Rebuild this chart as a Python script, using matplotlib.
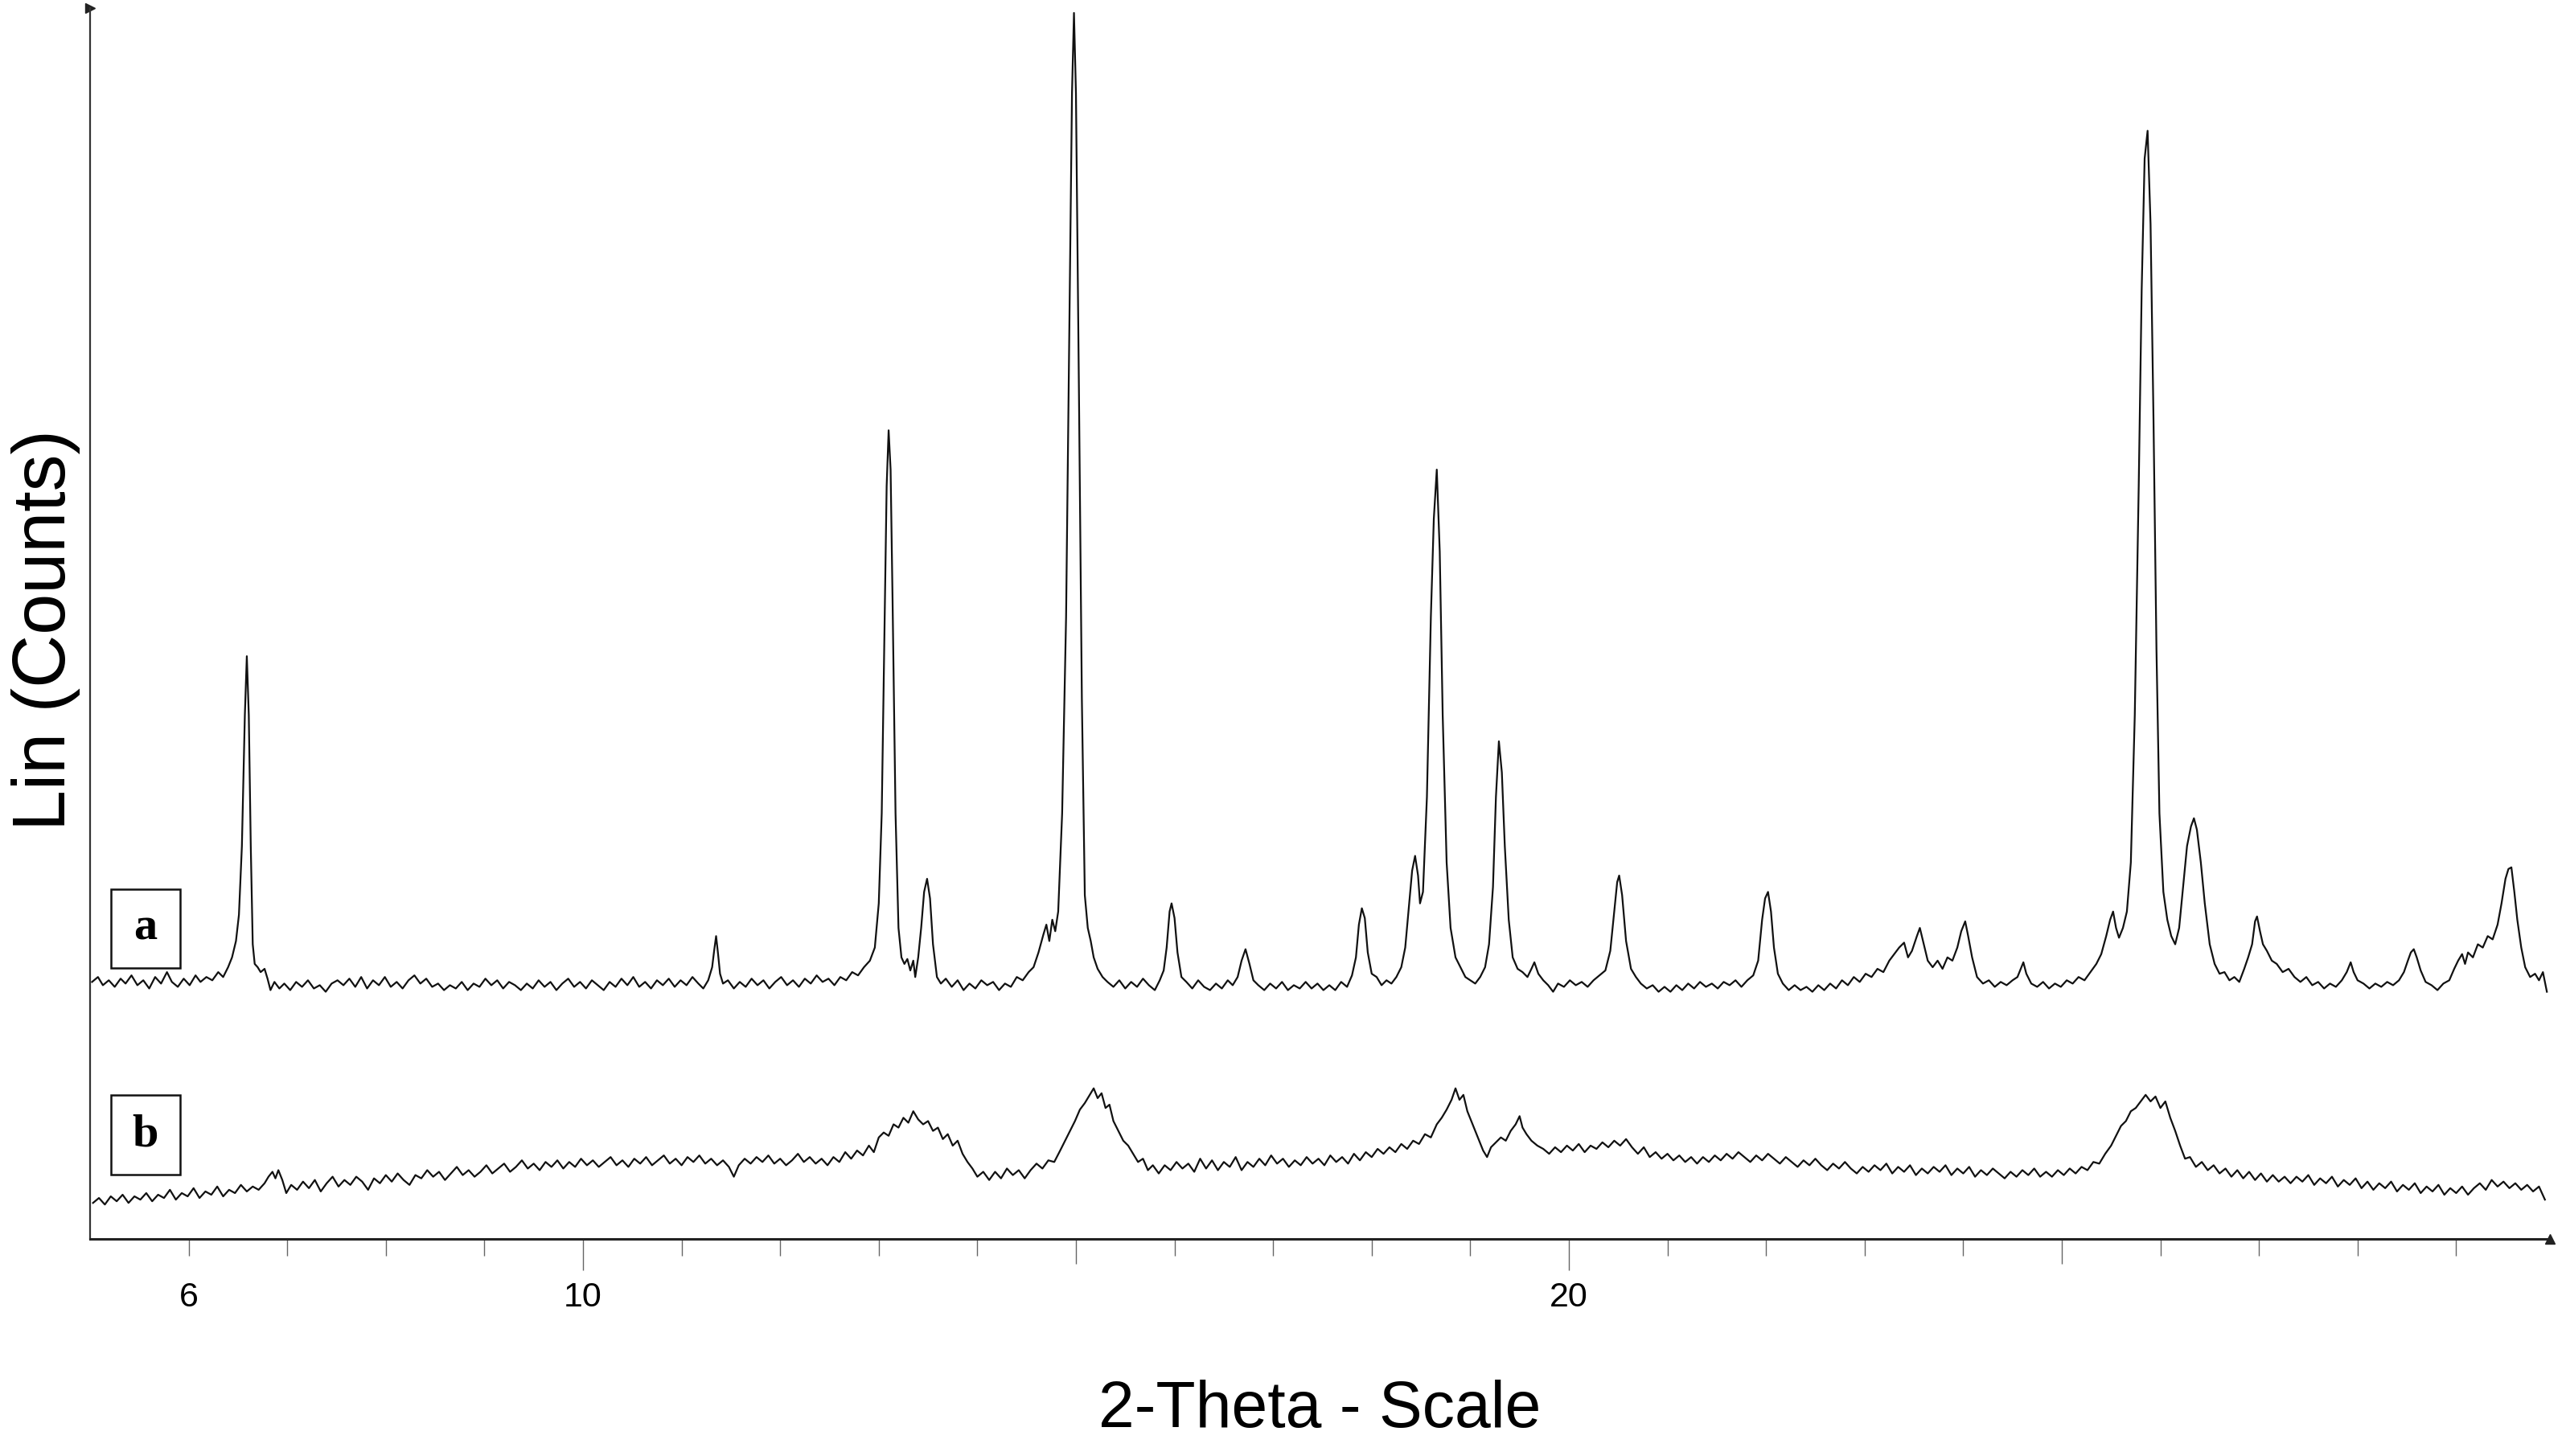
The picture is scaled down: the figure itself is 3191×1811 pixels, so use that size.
import matplotlib
matplotlib.use("Agg")
import matplotlib.pyplot as plt
from matplotlib.patches import Rectangle

# Data: (2-theta, counts), counts in arbitrary linear units
trace_a = [
    (5.02, 157), (5.08, 160), (5.13, 155), (5.19, 158), (5.25, 154), (5.31, 159), (5.36, 156), (5.42, 161),
    (5.48, 155), (5.54, 158), (5.60, 153), (5.66, 160), (5.72, 156), (5.78, 163), (5.83, 157), (5.89, 154),
    (5.95, 159), (6.01, 155), (6.07, 161), (6.12, 157), (6.18, 160), (6.24, 158), (6.30, 163), (6.35, 160),
    (6.40, 166), (6.44, 172), (6.48, 182), (6.51, 198), (6.54, 240), (6.57, 320), (6.59, 356), (6.61, 320),
    (6.63, 240), (6.65, 180), (6.67, 168), (6.70, 166), (6.73, 163), (6.77, 165), (6.80, 159), (6.83, 152),
    (6.87, 157), (6.92, 153), (6.97, 156), (7.03, 152), (7.09, 157), (7.15, 154), (7.21, 158), (7.27, 153),
    (7.33, 155), (7.39, 151), (7.45, 156), (7.51, 158), (7.57, 155), (7.63, 159), (7.69, 154), (7.75, 160),
    (7.81, 153), (7.87, 158), (7.93, 155), (7.99, 160), (8.05, 154), (8.11, 157), (8.17, 153), (8.23, 158),
    (8.29, 161), (8.35, 156), (8.41, 159), (8.47, 154), (8.53, 156), (8.59, 152), (8.65, 155), (8.71, 153),
    (8.77, 157), (8.83, 152), (8.89, 156), (8.95, 154), (9.01, 159), (9.07, 155), (9.13, 158), (9.19, 153),
    (9.25, 157), (9.31, 155), (9.37, 152), (9.43, 156), (9.49, 153), (9.55, 158), (9.61, 154), (9.67, 157),
    (9.73, 152), (9.79, 156), (9.85, 159), (9.91, 154), (9.97, 157), (10.03, 153), (10.09, 158), (10.15, 155),
    (10.21, 152), (10.27, 157), (10.33, 154), (10.39, 159), (10.45, 155), (10.51, 160), (10.57, 154), (10.63, 157),
    (10.69, 153), (10.75, 158), (10.81, 155), (10.87, 159), (10.93, 154), (10.99, 158), (11.05, 155), (11.11, 160),
    (11.17, 156), (11.22, 153), (11.27, 158), (11.31, 166), (11.33, 176), (11.35, 185), (11.37, 174), (11.39, 162),
    (11.42, 156), (11.47, 158), (11.53, 153), (11.59, 157), (11.65, 154), (11.71, 159), (11.77, 155), (11.83, 158),
    (11.89, 153), (11.95, 157), (12.01, 160), (12.07, 155), (12.13, 158), (12.19, 154), (12.25, 159), (12.31, 156),
    (12.37, 161), (12.43, 157), (12.49, 159), (12.55, 155), (12.61, 160), (12.67, 158), (12.73, 163), (12.79, 161),
    (12.85, 166), (12.91, 170), (12.96, 178), (13.00, 205), (13.03, 260), (13.06, 380), (13.08, 460), (13.10, 494),
    (13.12, 470), (13.14, 390), (13.17, 260), (13.20, 190), (13.23, 172), (13.26, 168), (13.29, 171), (13.32, 164),
    (13.35, 170), (13.37, 160), (13.40, 172), (13.43, 190), (13.46, 212), (13.49, 220), (13.52, 208), (13.55, 180),
    (13.59, 160), (13.63, 156), (13.68, 159), (13.74, 154), (13.80, 158), (13.86, 152), (13.92, 156), (13.98, 153),
    (14.04, 158), (14.10, 155), (14.16, 157), (14.22, 152), (14.28, 156), (14.34, 154), (14.40, 160), (14.46, 158),
    (14.52, 163), (14.57, 166), (14.62, 175), (14.67, 186), (14.70, 192), (14.73, 182), (14.76, 195), (14.79, 188),
    (14.82, 200), (14.86, 260), (14.90, 380), (14.93, 540), (14.96, 700), (14.98, 749), (15.00, 700), (15.03, 520),
    (15.06, 330), (15.09, 210), (15.12, 190), (15.15, 182), (15.18, 172), (15.22, 165), (15.27, 160), (15.32, 157),
    (15.38, 154), (15.44, 158), (15.50, 153), (15.56, 157), (15.62, 154), (15.68, 159), (15.74, 155), (15.80, 152),
    (15.85, 158), (15.89, 164), (15.92, 178), (15.95, 200), (15.97, 205), (16.00, 196), (16.03, 175), (16.07, 160),
    (16.12, 157), (16.18, 153), (16.24, 158), (16.30, 154), (16.36, 152), (16.42, 156), (16.48, 153), (16.54, 158),
    (16.59, 155), (16.64, 160), (16.68, 170), (16.72, 177), (16.76, 168), (16.80, 158), (16.85, 155), (16.91, 152),
    (16.97, 156), (17.03, 153), (17.09, 157), (17.15, 152), (17.21, 155), (17.27, 153), (17.33, 157), (17.39, 153),
    (17.45, 156), (17.51, 152), (17.57, 155), (17.63, 152), (17.69, 157), (17.75, 154), (17.80, 161), (17.84, 172),
    (17.87, 192), (17.90, 202), (17.93, 196), (17.96, 175), (18.00, 162), (18.05, 160), (18.10, 155), (18.15, 158),
    (18.20, 156), (18.25, 160), (18.30, 166), (18.34, 178), (18.38, 205), (18.41, 225), (18.44, 234), (18.47, 222),
    (18.49, 205), (18.52, 212), (18.56, 270), (18.60, 380), (18.63, 440), (18.66, 470), (18.69, 420), (18.72, 320),
    (18.76, 230), (18.80, 190), (18.85, 172), (18.90, 166), (18.95, 160), (19.00, 158), (19.05, 156), (19.10, 160),
    (19.15, 166), (19.19, 180), (19.23, 215), (19.26, 270), (19.29, 304), (19.32, 285), (19.35, 240), (19.39, 195),
    (19.43, 172), (19.48, 165), (19.53, 163), (19.58, 160), (19.62, 165), (19.65, 169), (19.69, 162), (19.74, 158),
    (19.79, 155), (19.84, 151), (19.89, 156), (19.95, 154), (20.01, 158), (20.07, 155), (20.13, 157), (20.19, 154),
    (20.25, 158), (20.31, 161), (20.37, 164), (20.42, 176), (20.46, 200), (20.49, 218), (20.51, 222), (20.54, 210),
    (20.58, 182), (20.63, 165), (20.68, 160), (20.73, 156), (20.79, 153), (20.85, 155), (20.91, 151), (20.97, 154),
    (21.03, 151), (21.09, 155), (21.15, 152), (21.21, 156), (21.27, 153), (21.33, 157), (21.39, 154), (21.45, 156),
    (21.51, 153), (21.57, 157), (21.63, 155), (21.69, 158), (21.75, 154), (21.81, 158), (21.87, 161), (21.92, 170),
    (21.96, 195), (21.99, 208), (22.02, 212), (22.05, 200), (22.08, 178), (22.12, 162), (22.17, 156), (22.23, 152),
    (22.29, 155), (22.35, 152), (22.41, 154), (22.47, 151), (22.53, 155), (22.59, 152), (22.65, 156), (22.71, 153),
    (22.77, 158), (22.83, 155), (22.89, 160), (22.95, 157), (23.01, 162), (23.07, 160), (23.13, 165), (23.19, 163),
    (23.25, 170), (23.30, 174), (23.35, 178), (23.40, 181), (23.44, 172), (23.48, 176), (23.53, 185), (23.56, 190),
    (23.60, 180), (23.64, 170), (23.69, 166), (23.74, 170), (23.79, 165), (23.84, 172), (23.89, 170), (23.94, 178),
    (23.98, 188), (24.02, 194), (24.05, 185), (24.09, 172), (24.14, 160), (24.20, 156), (24.26, 158), (24.32, 154),
    (24.38, 157), (24.44, 155), (24.50, 158), (24.55, 160), (24.59, 166), (24.61, 169), (24.64, 162), (24.69, 156),
    (24.75, 154), (24.81, 157), (24.87, 153), (24.93, 156), (24.99, 154), (25.05, 158), (25.11, 156), (25.17, 160),
    (25.23, 158), (25.29, 163), (25.35, 168), (25.40, 174), (25.45, 185), (25.49, 195), (25.52, 200), (25.55, 190),
    (25.58, 184), (25.62, 190), (25.66, 200), (25.70, 230), (25.74, 320), (25.78, 460), (25.81, 580), (25.84, 660),
    (25.87, 677), (25.90, 620), (25.93, 500), (25.96, 360), (25.99, 260), (26.03, 212), (26.07, 195), (26.11, 185),
    (26.15, 180), (26.19, 190), (26.23, 215), (26.27, 240), (26.31, 252), (26.34, 257), (26.37, 250), (26.41, 230),
    (26.45, 205), (26.50, 180), (26.55, 168), (26.60, 162), (26.65, 163), (26.70, 158), (26.75, 160), (26.80, 157),
    (26.85, 165), (26.89, 172), (26.93, 180), (26.96, 194), (26.98, 197), (27.01, 188), (27.04, 180), (27.08, 176),
    (27.13, 170), (27.18, 168), (27.24, 163), (27.30, 165), (27.36, 160), (27.42, 157), (27.48, 160), (27.54, 155),
    (27.60, 157), (27.66, 153), (27.72, 156), (27.78, 154), (27.84, 158), (27.89, 163), (27.93, 169), (27.96, 163),
    (28.00, 158), (28.06, 156), (28.12, 153), (28.18, 156), (28.24, 154), (28.30, 157), (28.36, 155), (28.42, 158),
    (28.47, 163), (28.51, 170), (28.54, 175), (28.57, 177), (28.60, 172), (28.64, 164), (28.69, 157), (28.75, 155),
    (28.81, 152), (28.87, 156), (28.93, 158), (28.98, 165), (29.02, 170), (29.06, 174), (29.09, 168), (29.12, 175),
    (29.17, 172), (29.22, 180), (29.27, 178), (29.32, 185), (29.37, 183), (29.42, 192), (29.46, 205), (29.50, 220),
    (29.53, 226), (29.56, 227), (29.59, 212), (29.62, 195), (29.66, 178), (29.70, 166), (29.75, 160), (29.80, 162),
    (29.84, 158), (29.88, 163), (29.92, 151),
]

trace_b = [
    (5.03, 22), (5.09, 25), (5.15, 21), (5.21, 26), (5.27, 23), (5.33, 27), (5.39, 22), (5.45, 26),
    (5.51, 24), (5.57, 28), (5.63, 23), (5.69, 27), (5.75, 25), (5.81, 30), (5.87, 24), (5.93, 28),
    (5.99, 26), (6.05, 31), (6.11, 25), (6.17, 29), (6.23, 27), (6.29, 32), (6.35, 26), (6.41, 30),
    (6.47, 28), (6.53, 33), (6.59, 29), (6.65, 32), (6.71, 30), (6.77, 34), (6.81, 38), (6.85, 41),
    (6.88, 37), (6.91, 42), (6.95, 36), (6.99, 28), (7.04, 33), (7.10, 30), (7.16, 35), (7.22, 31),
    (7.28, 36), (7.34, 29), (7.40, 34), (7.46, 38), (7.52, 32), (7.58, 36), (7.64, 33), (7.70, 38),
    (7.76, 35), (7.82, 30), (7.88, 37), (7.94, 34), (8.00, 39), (8.06, 35), (8.12, 40), (8.18, 36),
    (8.24, 33), (8.30, 39), (8.36, 37), (8.42, 42), (8.48, 38), (8.54, 41), (8.60, 36), (8.66, 40),
    (8.72, 44), (8.78, 39), (8.84, 42), (8.90, 38), (8.96, 41), (9.02, 45), (9.08, 40), (9.14, 43),
    (9.20, 46), (9.26, 41), (9.32, 44), (9.38, 48), (9.44, 43), (9.50, 46), (9.56, 42), (9.62, 47),
    (9.68, 44), (9.74, 48), (9.80, 43), (9.86, 47), (9.92, 44), (9.98, 49), (10.04, 45), (10.10, 48),
    (10.16, 44), (10.22, 47), (10.28, 50), (10.34, 45), (10.40, 48), (10.46, 44), (10.52, 49), (10.58, 46),
    (10.64, 50), (10.70, 45), (10.76, 48), (10.82, 51), (10.88, 46), (10.94, 49), (11.00, 45), (11.06, 50),
    (11.12, 47), (11.18, 51), (11.24, 46), (11.30, 49), (11.36, 45), (11.42, 48), (11.48, 44), (11.53, 38),
    (11.58, 45), (11.64, 49), (11.70, 46), (11.76, 50), (11.82, 47), (11.88, 51), (11.94, 46), (12.00, 49),
    (12.06, 45), (12.12, 48), (12.18, 52), (12.24, 47), (12.30, 50), (12.36, 46), (12.42, 49), (12.48, 45),
    (12.54, 50), (12.60, 47), (12.66, 53), (12.72, 49), (12.78, 54), (12.84, 51), (12.90, 57), (12.95, 53),
    (13.00, 62), (13.05, 65), (13.10, 63), (13.15, 70), (13.20, 68), (13.25, 74), (13.30, 71), (13.35, 78),
    (13.40, 73), (13.45, 70), (13.50, 72), (13.55, 66), (13.60, 68), (13.65, 61), (13.70, 64), (13.75, 57),
    (13.80, 60), (13.85, 52), (13.90, 47), (13.95, 43), (14.00, 38), (14.06, 41), (14.12, 36), (14.18, 41),
    (14.24, 37), (14.30, 43), (14.36, 39), (14.42, 42), (14.48, 37), (14.54, 42), (14.60, 46), (14.66, 43),
    (14.72, 48), (14.78, 47), (14.84, 54), (14.89, 60), (14.94, 66), (14.99, 72), (15.04, 79), (15.09, 83),
    (15.14, 88), (15.18, 92), (15.22, 86), (15.26, 89), (15.30, 80), (15.34, 82), (15.38, 72), (15.43, 66),
    (15.48, 60), (15.53, 57), (15.58, 52), (15.63, 47), (15.68, 49), (15.73, 42), (15.78, 45), (15.84, 40),
    (15.90, 45), (15.96, 42), (16.02, 47), (16.08, 43), (16.14, 46), (16.20, 41), (16.26, 49), (16.32, 43),
    (16.38, 48), (16.44, 42), (16.50, 47), (16.56, 44), (16.62, 50), (16.68, 42), (16.74, 47), (16.80, 44),
    (16.86, 49), (16.92, 45), (16.98, 51), (17.04, 46), (17.10, 49), (17.16, 44), (17.22, 48), (17.28, 45),
    (17.34, 50), (17.40, 46), (17.46, 49), (17.52, 45), (17.58, 51), (17.64, 47), (17.70, 50), (17.76, 46),
    (17.82, 52), (17.88, 48), (17.94, 53), (18.00, 50), (18.06, 55), (18.12, 52), (18.18, 56), (18.24, 53),
    (18.30, 58), (18.36, 55), (18.42, 60), (18.48, 58), (18.54, 64), (18.60, 62), (18.66, 70), (18.71, 74),
    (18.76, 79), (18.81, 85), (18.85, 92), (18.89, 85), (18.93, 88), (18.97, 78), (19.01, 72), (19.05, 66),
    (19.09, 60), (19.13, 54), (19.17, 50), (19.21, 56), (19.26, 59), (19.31, 62), (19.36, 60), (19.41, 66),
    (19.46, 70), (19.50, 75), (19.53, 68), (19.57, 64), (19.62, 60), (19.68, 57), (19.74, 55), (19.80, 52),
    (19.86, 56), (19.92, 53), (19.98, 57), (20.04, 54), (20.10, 58), (20.16, 53), (20.22, 57), (20.28, 55),
    (20.34, 59), (20.40, 56), (20.46, 60), (20.52, 57), (20.58, 61), (20.64, 56), (20.70, 52), (20.76, 56),
    (20.82, 50), (20.88, 53), (20.94, 49), (21.00, 52), (21.06, 48), (21.12, 51), (21.18, 47), (21.24, 50),
    (21.30, 46), (21.36, 50), (21.42, 47), (21.48, 51), (21.54, 48), (21.60, 52), (21.66, 49), (21.72, 53),
    (21.78, 50), (21.84, 47), (21.90, 51), (21.96, 48), (22.02, 52), (22.08, 49), (22.14, 46), (22.20, 50),
    (22.26, 47), (22.32, 44), (22.38, 48), (22.44, 45), (22.50, 49), (22.56, 45), (22.62, 42), (22.68, 46),
    (22.74, 43), (22.80, 47), (22.86, 43), (22.92, 40), (22.98, 44), (23.04, 41), (23.10, 45), (23.16, 42),
    (23.22, 46), (23.28, 40), (23.34, 44), (23.40, 41), (23.46, 45), (23.52, 39), (23.58, 43), (23.64, 40),
    (23.70, 44), (23.76, 41), (23.82, 45), (23.88, 39), (23.94, 43), (24.00, 40), (24.06, 44), (24.12, 38),
    (24.18, 42), (24.24, 39), (24.30, 43), (24.36, 40), (24.42, 37), (24.48, 41), (24.54, 38), (24.60, 42),
    (24.66, 39), (24.72, 43), (24.78, 38), (24.84, 41), (24.90, 38), (24.96, 42), (25.02, 39), (25.08, 43),
    (25.14, 40), (25.20, 44), (25.26, 42), (25.32, 47), (25.38, 46), (25.44, 52), (25.50, 57), (25.55, 63),
    (25.60, 69), (25.65, 72), (25.70, 78), (25.75, 80), (25.80, 84), (25.85, 88), (25.90, 84), (25.95, 87),
    (26.00, 80), (26.05, 84), (26.10, 74), (26.15, 66), (26.20, 57), (26.25, 49), (26.30, 50), (26.36, 44),
    (26.42, 47), (26.48, 42), (26.54, 45), (26.60, 40), (26.66, 43), (26.72, 38), (26.78, 42), (26.84, 37),
    (26.90, 41), (26.96, 36), (27.02, 40), (27.08, 35), (27.14, 39), (27.20, 35), (27.26, 38), (27.32, 34),
    (27.38, 38), (27.44, 35), (27.50, 39), (27.56, 33), (27.62, 37), (27.68, 34), (27.74, 38), (27.80, 32),
    (27.86, 36), (27.92, 33), (27.98, 37), (28.04, 31), (28.10, 35), (28.16, 30), (28.22, 34), (28.28, 31),
    (28.34, 35), (28.40, 29), (28.46, 33), (28.52, 30), (28.58, 34), (28.64, 28), (28.70, 32), (28.76, 29),
    (28.82, 33), (28.88, 27), (28.94, 31), (29.00, 28), (29.06, 32), (29.12, 27), (29.18, 31), (29.24, 34),
    (29.30, 30), (29.36, 36), (29.42, 32), (29.48, 35), (29.54, 31), (29.60, 34), (29.66, 30), (29.72, 33),
    (29.78, 29), (29.84, 32), (29.90, 24),
]

sample_labels = ["a", "b"]
major_ticks = [6, 10, 15, 20, 25]
major_labels = ["6", "10", "", "20", ""]
minor_ticks = [7, 8, 9, 11, 12, 13, 14, 16, 17, 18, 19, 21, 22, 23, 24, 26, 27, 28, 29]

theta_a, counts_a = zip(*trace_a)
theta_b, counts_b = zip(*trace_b)

fig = plt.figure(figsize=(31.91, 18.11), dpi=100)
ax = fig.add_axes([0.0351, 0.1491, 0.9586, 0.8454])

ax.plot(theta_a, counts_a, color="#111111", lw=1.6)
ax.plot(theta_b, counts_b, color="#111111", lw=1.6)

ax.set_xlim(5, 29.95)
ax.set_ylim(0, 752)

for side in ["top", "right"]:
    ax.spines[side].set_visible(False)
ax.spines["left"].set_linewidth(1.6)
ax.spines["bottom"].set_linewidth(2.2)
ax.spines["left"].set_color("#333333")
ax.spines["bottom"].set_color("#222222")

ax.set_yticks([])
ax.set_xticks(major_ticks)
ax.set_xticklabels(major_labels, fontsize=31, family="Liberation Sans")
ax.set_xticks(minor_ticks, minor=True)
ax.tick_params(axis="x", which="major", direction="out", length=28, width=1.0,
               color="#666666", pad=10)
ax.tick_params(axis="x", which="minor", direction="out", length=15, width=1.0,
               color="#666666")
# tick 6 is short, 15 and 25 are medium
for tick, val in zip(ax.xaxis.get_major_ticks(), major_ticks):
    if val == 6:
        tick.tick1line.set_markersize(15)
    elif val in (15, 25):
        tick.tick1line.set_markersize(22)

# little arrow heads at the axis ends
ax.plot([0.0], [1.0], marker=">", ms=8, color="#222222", transform=ax.transAxes, clip_on=False)
ax.plot([1.0], [0.0], marker="^", ms=8, color="#222222", transform=ax.transAxes, clip_on=False)

# boxed sample labels
for lab, (y0, y1) in zip(sample_labels, [(165.6, 213.8), (39.3, 88.0)]):
    ax.add_patch(Rectangle((5.212, y0), 0.70, y1 - y0, fill=False, lw=1.8, ec="#111111"))
    ax.text(5.562, (y0 + y1) / 2, lab, ha="center", va="center", fontsize=42,
            fontweight="bold", family="Liberation Serif")

fig.text(0.5143, 0.0315, "2-Theta - Scale", ha="center", va="center", fontsize=58,
         family="Liberation Sans")
fig.text(0.0179, 0.5676, "Lin (Counts)", ha="center", va="center", rotation=90,
         fontsize=66, family="Liberation Sans")

fig.savefig("out.png", dpi=100)
